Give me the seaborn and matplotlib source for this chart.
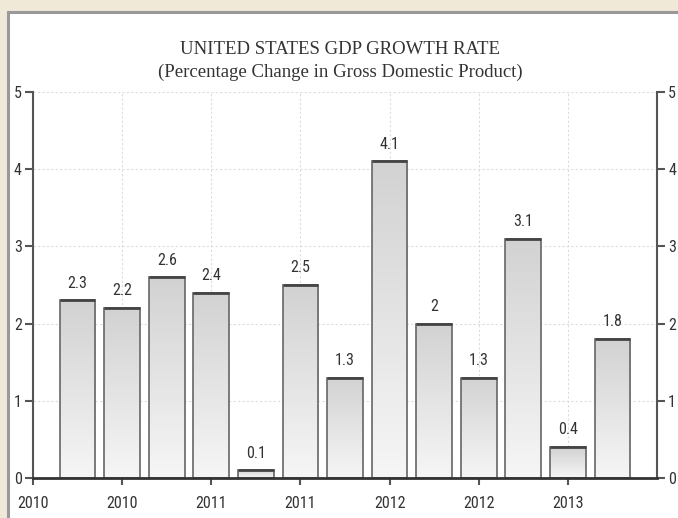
import numpy as np
import pandas as pd
import matplotlib
matplotlib.use("Agg")
import matplotlib.pyplot as plt
from matplotlib import font_manager
from matplotlib.patches import Rectangle
from matplotlib.colors import LinearSegmentedColormap
import seaborn as sns

# Quarterly US GDP growth, percentage change
quarters = ["2010Q2", "2010Q3", "2010Q4", "2011Q1", "2011Q2", "2011Q3", "2011Q4",
            "2012Q1", "2012Q2", "2012Q3", "2012Q4", "2013Q1", "2013Q2"]
growth = [2.3, 2.2, 2.6, 2.4, 0.1, 2.5, 1.3, 4.1, 2, 1.3, 3.1, 0.4, 1.8]
year_tick_pos = [-1, 1, 3, 5, 7, 9, 11]
year_tick_labels = ["2010", "2010", "2011", "2011", "2012", "2012", "2013"]
y_ticks = [0, 1, 2, 3, 4, 5]

title_line1 = "UNITED STATES GDP GROWTH RATE"
title_line2 = "(Percentage Change in Gross Domestic Product)"

sns.set_theme(style="white")

available = {f.name for f in font_manager.fontManager.ttflist}
narrow = "DejaVu Sans"
for cand in ["Liberation Sans Narrow", "DejaVu Sans Condensed", "Roboto Condensed", "Open Sans Condensed"]:
    if cand in available:
        narrow = cand
        break
plt.rcParams["font.family"] = [narrow, "DejaVu Sans"]

df = pd.DataFrame({"quarter": quarters, "growth": growth})

fig = plt.figure(figsize=(6.78, 5.18), dpi=100)
fig.patch.set_facecolor("#f0e9d8")

# white panel with grey frame
W, H = 678, 518
panel = Rectangle((8 / W, -0.1), 1.2, (H - 12) / H + 0.1, transform=fig.transFigure,
                  facecolor="white", edgecolor="#999999", linewidth=2.2, zorder=-5)
fig.patches.append(panel)

ax = fig.add_axes([33 / W, 1 - 478 / H, 624 / W, (478 - 92) / H])
ax.set_facecolor("none")

sns.barplot(data=df, x="quarter", y="growth", ax=ax, width=0.8,
            color="#dddddd", edgecolor="#666666", linewidth=1.2, saturation=1)

ax.set_xlim(-1, 13)
ax.set_ylim(0, 5)

# vertical grey gradient inside each bar
cmap = LinearSegmentedColormap.from_list("bar", ["#f6f6f6", "#d2d2d2"])
grad = np.linspace(0, 1, 256).reshape(-1, 1)
for bar in list(ax.patches):
    x0, w, h = bar.get_x(), bar.get_width(), bar.get_height()
    bar.set_facecolor("none")
    bar.set_zorder(3)
    im = ax.imshow(grad, cmap=cmap, aspect="auto", origin="lower",
                   extent=(x0, x0 + w, 0, h), zorder=2.5, interpolation="bilinear")
    im.set_clip_path(bar)
    ax.plot([x0, x0 + w], [h, h], color="#444444", lw=2.0, zorder=3.2,
            solid_capstyle="butt")

ax.set_xlim(-1, 13)
ax.set_ylim(0, 5)

ax.bar_label(ax.containers[0], fmt="%g", padding=7, fontsize=11.5, color="#333333")

ax.set_xticks(year_tick_pos)
ax.set_xticklabels(year_tick_labels)
ax.set_yticks(y_ticks)
ax.set_yticklabels([str(v) for v in y_ticks])
ax.set_xlabel("")
ax.set_ylabel("")

ax.set_axisbelow(True)
ax.grid(True, color="#dcdcdc", linestyle=(0, (2, 2)), linewidth=0.8)

for side in ["left", "right"]:
    ax.spines[side].set_visible(True)
    ax.spines[side].set_color("#555555")
    ax.spines[side].set_linewidth(1.5)
ax.spines["bottom"].set_visible(True)
ax.spines["bottom"].set_color("#333333")
ax.spines["bottom"].set_linewidth(2.0)
ax.spines["bottom"].set_zorder(4)
ax.spines["top"].set_visible(False)

ax.tick_params(axis="y", left=True, right=True, labelleft=True, labelright=True,
               direction="out", length=6, width=1.5, color="#555555",
               labelsize=11.5, labelcolor="#333333", pad=2)
ax.tick_params(axis="x", bottom=True, direction="out", length=5, width=1.5,
               color="#555555", labelsize=11.5, labelcolor="#333333", pad=8)

fig.text(340 / W, 1 - 50 / H, title_line1, ha="center", va="center",
         family=["Liberation Serif", "DejaVu Serif"], fontsize=13.5, color="#333333")
fig.text(340 / W, 1 - 72 / H, title_line2, ha="center", va="center",
         family=["Liberation Serif", "DejaVu Serif"], fontsize=13.5, color="#333333")

fig.savefig("out.png", dpi=100, facecolor=fig.get_facecolor())
